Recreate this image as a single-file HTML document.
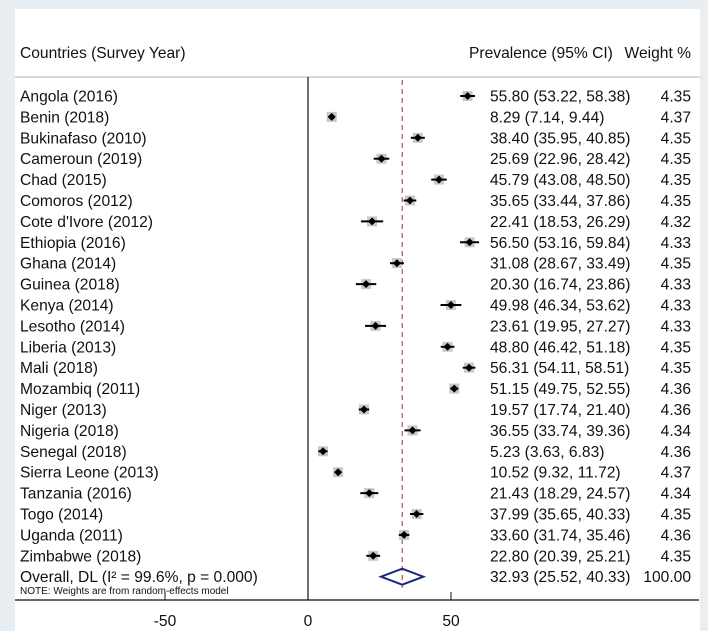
<!DOCTYPE html>
<html><head><meta charset="utf-8"><style>
body{margin:0;background:#e8eef2;}
svg{display:block;font-family:"Liberation Sans",Arial,sans-serif;}
</style></head><body>
<svg width="708" height="631" viewBox="0 0 708 631">
<rect x="0" y="0" width="708" height="631" fill="#e8eef2"/>
<rect x="15" y="9" width="685" height="622" fill="#ffffff"/>
<g id="g"></g>
</svg>
<script>
const countries=["Angola (2016)","Benin (2018)","Bukinafaso (2010)","Cameroun (2019)","Chad (2015)","Comoros (2012)","Cote d'Ivore (2012)","Ethiopia (2016)","Ghana (2014)","Guinea (2018)","Kenya (2014)","Lesotho (2014)","Liberia (2013)","Mali (2018)","Mozambiq (2011)","Niger (2013)","Nigeria (2018)","Senegal (2018)","Sierra Leone (2013)","Tanzania (2016)","Togo (2014)","Uganda (2011)","Zimbabwe (2018)"];
const est=[55.80,8.29,38.40,25.69,45.79,35.65,22.41,56.50,31.08,20.30,49.98,23.61,48.80,56.31,51.15,19.57,36.55,5.23,10.52,21.43,37.99,33.60,22.80];
const lo=[53.22,7.14,35.95,22.96,43.08,33.44,18.53,53.16,28.67,16.74,46.34,19.95,46.42,54.11,49.75,17.74,33.74,3.63,9.32,18.29,35.65,31.74,20.39];
const hi=[58.38,9.44,40.85,28.42,48.50,37.86,26.29,59.84,33.49,23.86,53.62,27.27,51.18,58.51,52.55,21.40,39.36,6.83,11.72,24.57,40.33,35.46,25.21];
const weights=["4.35","4.37","4.35","4.35","4.35","4.35","4.32","4.33","4.35","4.33","4.33","4.33","4.35","4.35","4.36","4.36","4.34","4.36","4.37","4.34","4.35","4.36","4.35"];
const overall=[32.93,25.52,40.33];
const ticks=[-50,0,50];
const NS="http://www.w3.org/2000/svg";
const g=document.getElementById('g');
const FS=15.6;
const X=v=>308+v*2.86;
const Y=i=>96+i*20.9;
function mk(t,a,txt){const e=document.createElementNS(NS,t);for(const k in a)e.setAttribute(k,a[k]);if(txt!==undefined)e.textContent=txt;g.appendChild(e);return e;}
let e;
e=mk('text',{x:20,y:58,'font-size':FS,fill:'#111'},'Countries (Survey Year)');


e=mk('text',{x:469,y:58,'font-size':FS,fill:'#111'},'Prevalence (95% CI)');


e=mk('text',{x:691,y:58,'font-size':FS,fill:'#111','text-anchor':'end'},'Weight %');


e=mk('line',{x1:15,x2:700,y1:77,y2:77,stroke:'#ccc','stroke-width':1.5});


e=mk('line',{x1:X(0),x2:X(0),y1:77,y2:600,stroke:'#111','stroke-width':1.2});


e=mk('line',{x1:X(overall[0]),x2:X(overall[0]),y1:80,y2:588,stroke:'#9b3040','stroke-width':1,'stroke-dasharray':'5,4'});


countries.forEach((c,i)=>{
 const y=Y(i);
 e=mk('text',{x:20,y:y+5.5,'font-size':FS,fill:'#111'},c);
 
 
 e=mk('rect',{x:X(est[i])-5,y:y-5,width:10,height:10,fill:'#c8c8c8'});
 
 
 e=mk('line',{x1:X(lo[i]),x2:X(hi[i]),y1:y,y2:y,stroke:'#000','stroke-width':2});
 
 
 e=mk('path',{d:`M${X(est[i])-4},${y}L${X(est[i])},${y-4}L${X(est[i])+4},${y}L${X(est[i])},${y+4}Z`,fill:'#000'});
 
 
 e=mk('text',{x:490,y:y+5.5,'font-size':FS,fill:'#111'},`${est[i].toFixed(2)} (${lo[i].toFixed(2)}, ${hi[i].toFixed(2)})`);
 
 
 e=mk('text',{x:691,y:y+5.5,'font-size':FS,fill:'#111','text-anchor':'end'},weights[i]);
 
 
});
const yo=Y(23);
e=mk('text',{x:20,y:yo+5.5,'font-size':FS,fill:'#111'},'Overall, DL (I² = 99.6%, p = 0.000)');


e=mk('path',{d:`M${X(overall[1])},${yo}L${X(overall[0])},${yo-8}L${X(overall[2])},${yo}L${X(overall[0])},${yo+8}Z`,fill:'none',stroke:'#1a2a7a','stroke-width':2});


e=mk('text',{x:490,y:yo+5.5,'font-size':FS,fill:'#111'},`${overall[0].toFixed(2)} (${overall[1].toFixed(2)}, ${overall[2].toFixed(2)})`);


e=mk('text',{x:691,y:yo+5.5,'font-size':FS,fill:'#111','text-anchor':'end'},'100.00');


e=mk('text',{x:20,y:594,'font-size':10,fill:'#111'},'NOTE: Weights are from random-effects model');


e=mk('line',{x1:15,x2:699,y1:600,y2:600,stroke:'#111','stroke-width':1.2});


ticks.forEach(t=>{
 e=mk('line',{x1:X(t),x2:X(t),y1:592,y2:600,stroke:'#111','stroke-width':1});
 
 
 e=mk('text',{x:X(t),y:626,'font-size':FS,fill:'#111','text-anchor':'middle'},String(t));
 
 
});
</script>
</body></html>
